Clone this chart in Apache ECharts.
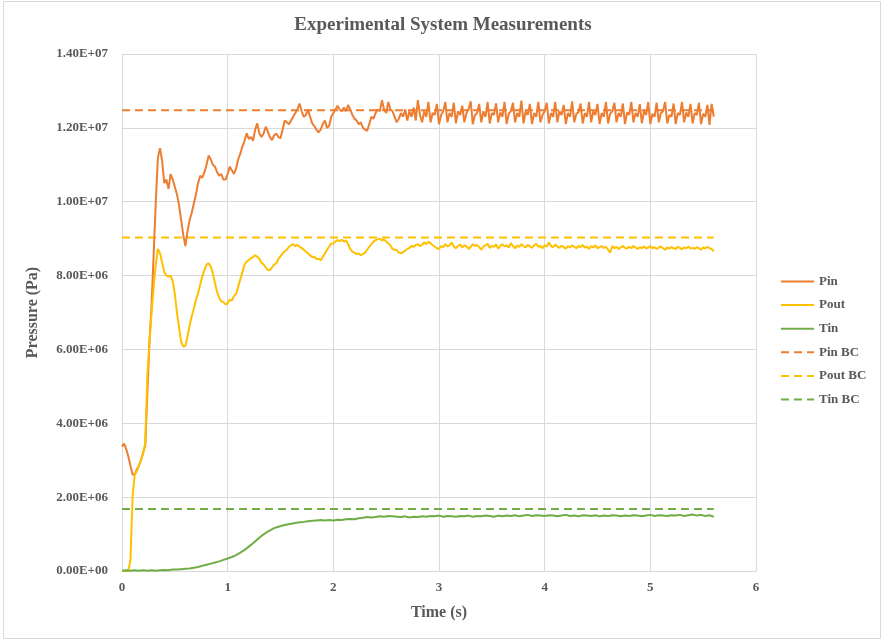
<!DOCTYPE html>
<html>
<head>
<meta charset="utf-8">
<script src="https://cdn.jsdelivr.net/npm/echarts@6/dist/echarts.min.js"></script>
<style>html,body{margin:0;padding:0;background:#fff}#c{width:886px;height:641px}</style>
</head>
<body>
<div id="c"></div>
<script>
// Values in units of 1E6 Pa (MPa); converted to Pa for the axis
const pinStep = 0.02;   // sampling interval (s)
const pinMPa = [
3.37,3.45,3.30,3.10,2.85,2.62,2.60,2.75,2.85,3.00,
3.20,3.40,4.80,6.20,7.20,8.60,10.0,11.2,11.45,11.1,
10.5,10.6,10.35,10.75,10.6,10.4,10.2,9.9,9.5,9.1,
8.8,9.2,9.5,9.7,9.95,10.2,10.5,10.7,10.65,10.8,
11.0,11.25,11.15,11.0,10.95,10.8,10.7,10.75,10.6,10.6,
10.75,10.95,10.85,10.75,10.9,11.15,11.3,11.5,11.65,11.85,
11.7,11.75,11.65,11.95,12.12,11.85,11.75,11.85,12.03,11.9,
11.75,11.67,11.8,11.85,11.75,11.72,11.95,12.2,12.15,12.1,
12.2,12.3,12.4,12.5,12.66,12.45,12.3,12.35,12.5,12.3,
12.12,12.05,11.95,11.88,11.95,12.1,12.2,12.0,12.05,12.3,
12.4,12.5,12.6,12.5,12.45,12.55,12.45,12.62,12.5,12.35,
12.25,12.2,12.1,12.15,12.0,11.95,11.92,12.1,12.3,12.25,
12.4,12.5,12.45,12.75,12.5,12.4,12.7,12.5,12.45,12.3,
12.15,12.25,12.4,12.3,12.5,12.2,12.45,12.3,12.55,12.2,
12.75,12.35,12.15,12.45,12.3,12.7,12.15,12.4,12.35,12.65,
12.1,12.35,12.45,12.7,12.15,12.4,12.3,12.68,12.12,12.45,
12.35,12.6,12.15,12.4,12.5,12.72,12.1,12.35,12.4,12.65,
12.15,12.45,12.3,12.7,12.12,12.4,12.35,12.66,12.15,12.42,
12.3,12.7,12.1,12.38,12.45,12.68,12.15,12.4,12.3,12.74,
12.12,12.45,12.35,12.65,12.1,12.4,12.3,12.7,12.15,12.35,
12.45,12.68,12.12,12.4,12.3,12.7,12.15,12.45,12.35,12.62,
12.1,12.4,12.3,12.72,12.15,12.38,12.42,12.66,12.12,12.4,
12.3,12.7,12.15,12.45,12.35,12.65,12.1,12.4,12.3,12.7,
12.12,12.38,12.45,12.68,12.15,12.4,12.3,12.66,12.1,12.42,
12.35,12.7,12.15,12.4,12.3,12.64,12.12,12.45,12.35,12.7,
12.1,12.38,12.3,12.68,12.15,12.4,12.45,12.7,12.12,12.35,
12.3,12.66,12.1,12.4,12.35,12.7,12.15,12.42,12.3,12.65,
12.12,12.4,12.35,12.68,12.1,12.38,12.3,12.62,12.08,12.65,
12.3
];
const poutStep = 0.02;
const poutMPa = [
0,0,0,0,0.3,2.0,2.6,2.7,2.85,3.0,
3.2,3.45,5.3,6.2,7.0,7.7,8.3,8.72,8.6,8.35,
8.1,8.0,7.97,8.0,7.85,7.5,7.0,6.6,6.2,6.08,
6.1,6.35,6.65,6.9,7.1,7.35,7.52,7.75,7.98,8.15,
8.3,8.33,8.25,8.06,7.8,7.55,7.4,7.3,7.28,7.22,
7.25,7.35,7.32,7.45,7.5,7.7,7.9,8.1,8.3,8.38,
8.42,8.47,8.5,8.55,8.51,8.45,8.35,8.3,8.22,8.15,
8.15,8.22,8.3,8.33,8.45,8.52,8.6,8.66,8.7,8.78,
8.82,8.85,8.8,8.83,8.78,8.75,8.7,8.65,8.6,8.55,
8.5,8.51,8.45,8.45,8.42,8.5,8.6,8.7,8.78,8.87,
8.87,8.92,8.96,8.93,8.97,8.92,8.95,8.85,8.72,8.65,
8.62,8.58,8.6,8.55,8.58,8.62,8.7,8.78,8.85,8.92,
8.96,8.98,9.0,8.95,8.98,8.92,8.87,8.82,8.72,8.7,
8.69,8.62,8.6,8.63,8.68,8.72,8.75,8.8,8.78,8.83,
8.85,8.8,8.83,8.9,8.85,8.92,8.88,8.82,8.78,8.74,
8.72,8.8,8.77,8.85,8.79,8.82,8.9,8.78,8.74,8.8,
8.84,8.76,8.82,8.79,8.72,8.78,8.85,8.8,8.83,8.77,
8.7,8.78,8.82,8.86,8.75,8.8,8.78,8.84,8.73,8.8,
8.85,8.79,8.82,8.76,8.88,8.8,8.74,8.81,8.78,8.85,
8.8,8.76,8.83,8.79,8.75,8.82,8.86,8.78,8.8,8.74,
8.82,8.78,8.9,8.8,8.77,8.84,8.79,8.75,8.81,8.77,
8.73,8.8,8.76,8.82,8.78,8.74,8.8,8.77,8.83,8.76,
8.78,8.72,8.8,8.76,8.82,8.74,8.77,8.8,8.75,8.78,
8.7,8.62,8.8,8.74,8.78,8.72,8.77,8.8,8.75,8.73,
8.78,8.74,8.8,8.76,8.72,8.77,8.74,8.79,8.73,8.76,
8.8,8.74,8.77,8.72,8.76,8.79,8.74,8.7,8.76,8.73,
8.77,8.74,8.72,8.78,8.75,8.71,8.76,8.74,8.79,8.73,
8.75,8.72,8.77,8.74,8.7,8.76,8.73,8.78,8.74,8.72,
8.66
];
const tinStep = 0.04;
const tinMPa = [
0.01,0.02,0.01,0.02,0.01,0.02,0.01,0.02,0.01,0.02,
0.03,0.02,0.04,0.04,0.05,0.06,0.07,0.09,0.11,0.14,
0.17,0.2,0.23,0.26,0.3,0.34,0.38,0.43,0.5,0.57,
0.66,0.75,0.85,0.95,1.03,1.1,1.16,1.2,1.23,1.26,
1.28,1.3,1.32,1.33,1.35,1.36,1.37,1.38,1.37,1.38,
1.37,1.39,1.38,1.4,1.41,1.4,1.43,1.44,1.46,1.45,
1.46,1.48,1.47,1.49,1.48,1.47,1.46,1.48,1.45,1.47,
1.46,1.48,1.47,1.49,1.48,1.5,1.47,1.49,1.48,1.47,
1.49,1.48,1.5,1.47,1.49,1.48,1.5,1.49,1.47,1.5,
1.48,1.5,1.49,1.51,1.48,1.5,1.52,1.49,1.51,1.5,
1.49,1.51,1.5,1.48,1.5,1.52,1.49,1.5,1.48,1.51,
1.5,1.49,1.51,1.48,1.5,1.49,1.51,1.5,1.48,1.5,
1.49,1.51,1.5,1.48,1.5,1.52,1.49,1.51,1.5,1.49,
1.51,1.5,1.52,1.49,1.51,1.53,1.5,1.52,1.49,1.51,
1.47
];
// Boundary condition levels (1E6 Pa) and their time span (s)
const bcNames = ['Pin BC','Pout BC','Tin BC'];
const bcMPa = [12.48, 9.03, 1.68];
const bcSpan = [0, 5.6];

const seriesNames = ['Pin','Pout','Tin'];
const colors = ['#ED7D31','#FFC000','#70AD47'];
const xTicks = [0,1,2,3,4,5,6];

function toPairs(step, arr){ return arr.map((v,i)=>[+(i*step).toFixed(3), v*1e6]); }
function fmtE(v){
  if (v === 0) return '0.00E+00';
  const e = Math.floor(Math.log10(v) + 1e-9);
  const m = v / Math.pow(10, e);
  return m.toFixed(2) + 'E+' + String(e).padStart(2,'0');
}

const FONT = '"Liberation Serif", "Times New Roman", serif';
const GRAY = '#595959';

const lineData = [toPairs(pinStep,pinMPa), toPairs(poutStep,poutMPa), toPairs(tinStep,tinMPa)];
const series = [];
seriesNames.forEach((n,i)=>{
  series.push({name:n,type:'line',data:lineData[i],symbol:'none',symbolSize:0,showSymbol:false,
    lineStyle:{color:colors[i],width:2},itemStyle:{color:colors[i]},animation:false,z:3});
});
bcNames.forEach((n,i)=>{
  series.push({name:n,type:'line',data:bcSpan.map(t=>[t,bcMPa[i]*1e6]),symbol:'none',symbolSize:0,showSymbol:false,
    lineStyle:{color:colors[i],width:2,type:[8,5]},itemStyle:{color:colors[i]},animation:false,z:2});
});

const chart = echarts.init(document.getElementById('c'), null, {renderer:'canvas'});
chart.setOption({
  backgroundColor:'#fff',
  animation:false,
  title:{text:'Experimental System Measurements',left:'center',top:11,
    textStyle:{fontFamily:FONT,fontSize:19,fontWeight:'bold',color:GRAY}},
  grid:{left:122,right:130,top:54,bottom:70,containLabel:false},
  legend:{orient:'vertical',left:775,top:270,itemWidth:33,itemHeight:14,itemGap:10.6,
    itemStyle:{opacity:0},
    data:seriesNames.concat(bcNames),
    textStyle:{fontFamily:FONT,fontSize:13,fontWeight:'bold',color:GRAY}},
  xAxis:{type:'value',min:xTicks[0],max:xTicks[xTicks.length-1],interval:1,
    name:'Time (s)',nameLocation:'middle',nameGap:34,
    nameTextStyle:{fontFamily:FONT,fontSize:16,fontWeight:'bold',color:GRAY},
    axisLine:{show:true,lineStyle:{color:'#D9D9D9',width:1}},
    axisTick:{show:false},
    axisLabel:{fontFamily:FONT,fontSize:13,fontWeight:'bold',color:GRAY,margin:10},
    splitLine:{show:true,lineStyle:{color:'#D9D9D9',width:1}}},
  yAxis:{type:'value',min:0,max:1.4e7,interval:2e6,
    name:'Pressure (Pa)',nameLocation:'middle',nameGap:81,nameRotate:90,
    nameTextStyle:{fontFamily:FONT,fontSize:16,fontWeight:'bold',color:GRAY},
    axisLine:{show:true,lineStyle:{color:'#D9D9D9',width:1}},
    axisTick:{show:false},
    axisLabel:{fontFamily:FONT,fontSize:13,fontWeight:'bold',color:GRAY,margin:14,formatter:fmtE},
    splitLine:{show:true,lineStyle:{color:'#D9D9D9',width:1}}},
  graphic:[{type:'rect',shape:{x:3.5,y:1.5,width:877,height:637},
    style:{fill:'none',stroke:'#D9D9D9',lineWidth:1},silent:true}],
  series:series
});
</script>
</body>
</html>
